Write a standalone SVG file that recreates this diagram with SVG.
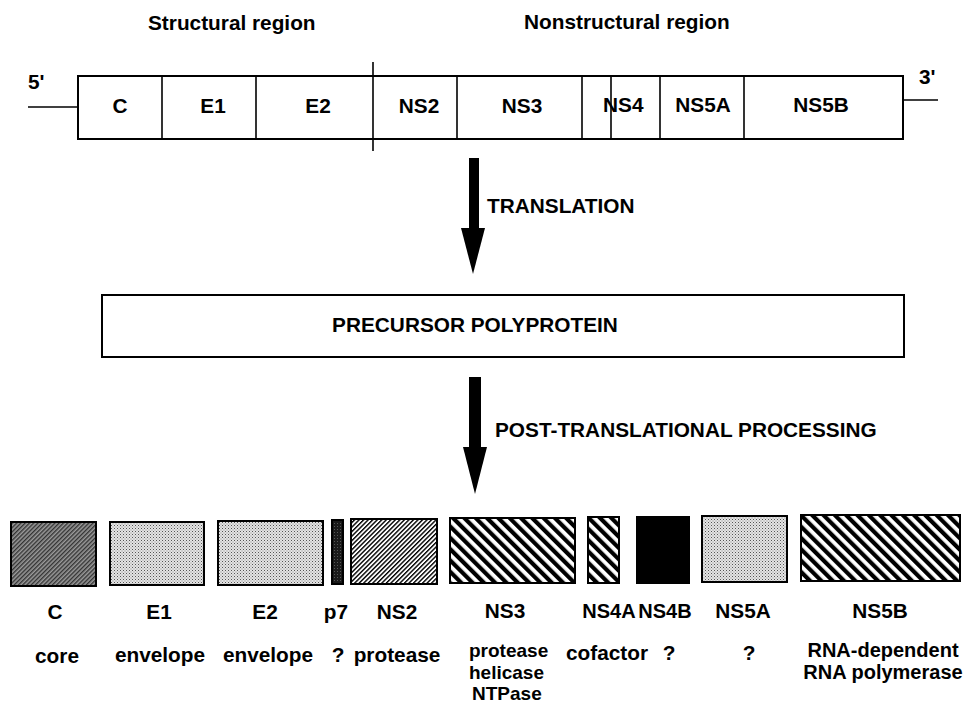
<svg xmlns="http://www.w3.org/2000/svg" width="965" height="708" viewBox="0 0 965 708">
<defs>
<style>
text{font-family:"Liberation Sans",Arial,Helvetica,sans-serif;font-weight:bold;font-size:20.8px;fill:#000}
.m{text-anchor:middle}
.s{font-size:20px}
.t{font-size:19px}
.box{stroke:#000;stroke-width:2}
.ln{stroke:#000;stroke-width:1.6;fill:none}
.arr{fill:#000}
</style>
<pattern id="stip" width="3" height="3" patternUnits="userSpaceOnUse">
<rect width="3" height="3" fill="#e4e4e4"/>
<rect x="0" y="0" width="1" height="1" fill="#555"/>
<rect x="1.5" y="1.5" width="1" height="1" fill="#888"/>
</pattern>
<pattern id="dark" width="3" height="3" patternUnits="userSpaceOnUse" patternTransform="rotate(45)">
<rect width="3" height="3" fill="#9a9a9a"/>
<rect width="1.4" height="3" fill="#333"/>
</pattern>
<pattern id="p7p" width="3" height="3" patternUnits="userSpaceOnUse">
<rect width="3" height="3" fill="#1a1a1a"/>
<rect x="1" y="1" width="0.8" height="0.8" fill="#777"/>
</pattern>
<pattern id="fine" width="3.2" height="4" patternUnits="userSpaceOnUse" patternTransform="rotate(45)">
<rect width="3.2" height="4" fill="#fff"/>
<rect width="1.4" height="4" fill="#000"/>
</pattern>
<pattern id="thick" width="8" height="8" patternUnits="userSpaceOnUse" patternTransform="rotate(-45)">
<rect width="8" height="8" fill="#fff"/>
<rect width="4.2" height="8" fill="#000"/>
</pattern>
</defs>
<rect width="965" height="708" fill="#fff"/>

<g id="headers">
<text x="148" y="30">Structural region</text>
<text x="524" y="29">Nonstructural region</text>
</g>

<g id="genome">
<text x="28" y="89">5'</text>
<line class="ln" x1="28" y1="107" x2="78" y2="107"/>
<rect class="box" x="78" y="76" width="825" height="63" fill="#fff" stroke-width="1.6"/>
<line class="ln" x1="162" y1="76" x2="162" y2="139"/>
<line class="ln" x1="256" y1="76" x2="256" y2="139"/>
<line class="ln" x1="373" y1="62" x2="373" y2="151"/>
<line class="ln" x1="457" y1="76" x2="457" y2="139"/>
<line class="ln" x1="582" y1="76" x2="582" y2="139"/>
<line class="ln" x1="611" y1="76" x2="611" y2="139"/>
<line class="ln" x1="660" y1="76" x2="660" y2="139"/>
<line class="ln" x1="744" y1="76" x2="744" y2="139"/>
<line class="ln" x1="903" y1="100" x2="938" y2="100"/>
<text x="919" y="84">3'</text>
<text class="m" x="120" y="113">C</text>
<text class="m" x="213" y="113">E1</text>
<text class="m" x="318" y="113">E2</text>
<text class="m" x="419" y="113">NS2</text>
<text class="m" x="522" y="113">NS3</text>
<text x="603" y="112">NS4</text>
<text class="m" x="703" y="112">NS5A</text>
<text class="m" x="821" y="112">NS5B</text>
</g>

<g id="precursor">
<rect class="box" x="102" y="295" width="802" height="62" fill="#fff" stroke-width="1.6"/>
<text class="m" x="475" y="332">PRECURSOR POLYPROTEIN</text>
</g>

<g id="connectors">
<rect class="arr" x="469" y="158" width="10" height="72"/>
<polygon class="arr" points="461,228 485,228 473,274"/>
<text x="487" y="213">TRANSLATION</text>
<rect class="arr" x="469" y="377" width="12" height="72"/>
<polygon class="arr" points="463,447 487,447 475,494"/>
<text x="495" y="437">POST-TRANSLATIONAL PROCESSING</text>
</g>

<g id="p-C"><rect class="box" x="11" y="522" width="85" height="64" fill="url(#dark)"/>
<text class="m" x="55" y="619">C</text><text class="m" x="57" y="663">core</text></g>
<g id="p-E1"><rect class="box" x="110" y="522" width="94" height="63" fill="url(#stip)"/>
<text class="m" x="159" y="619">E1</text><text class="m" x="160" y="662">envelope</text></g>
<g id="p-E2"><rect class="box" x="218" y="521" width="105" height="64" fill="url(#stip)"/>
<text class="m" x="265" y="619">E2</text><text class="m" x="268" y="662">envelope</text></g>
<g id="p-p7"><rect class="box" x="332" y="520" width="11" height="64" fill="url(#p7p)"/>
<text class="m" x="336" y="619">p7</text><text class="m" x="338" y="662">?</text></g>
<g id="p-NS2"><rect class="box" x="351" y="519" width="86" height="65" fill="url(#fine)"/>
<text class="m" x="397" y="619">NS2</text><text class="m" x="397" y="662">protease</text></g>
<g id="p-NS3"><rect class="box" x="450" y="518" width="125" height="65" fill="url(#thick)"/>
<text class="m" x="505" y="618">NS3</text>
<text class="t" x="469" y="657">protease</text>
<text class="t" x="469" y="678.5">helicase</text>
<text class="t" x="472" y="700">NTPase</text></g>
<g id="p-NS4A"><rect class="box" x="588" y="517" width="31" height="66" fill="url(#thick)"/>
<text class="m s" x="609" y="618">NS4A</text><text class="m" x="607" y="660">cofactor</text></g>
<g id="p-NS4B"><rect class="box" x="637" y="517" width="52" height="66" fill="#000"/>
<text class="m s" x="665" y="618">NS4B</text><text class="m" x="669" y="660">?</text></g>
<g id="p-NS5A"><rect class="box" x="702" y="516" width="85" height="66" fill="url(#stip)"/>
<text class="m" x="743" y="618">NS5A</text><text class="m" x="749" y="660">?</text></g>
<g id="p-NS5B"><rect class="box" x="801" y="515" width="159" height="66" fill="url(#thick)"/>
<text class="m" x="880" y="618">NS5B</text>
<text class="m s" x="883" y="657">RNA-dependent</text>
<text class="m s" x="883" y="679">RNA polymerase</text></g>
</svg>
